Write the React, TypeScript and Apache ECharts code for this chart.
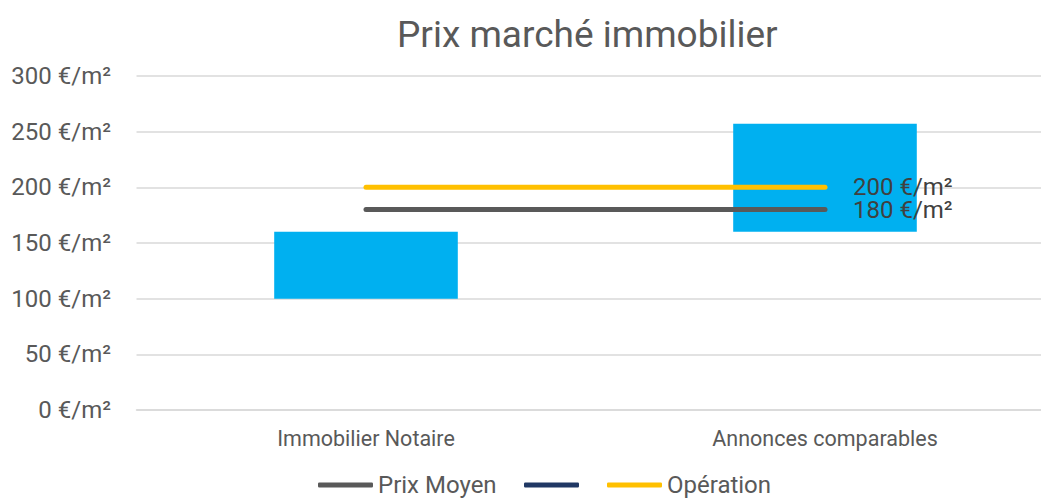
import React, { useEffect, useRef } from "react";
import * as echarts from "echarts";

const categories = ["Immobilier Notaire", "Annonces comparables"];
const barBase = [100, 160];
const barTop = [160, 257];
const prixMoyen = [180, 180];
const operation = [200, 200];
const yTicks = [0, 50, 100, 150, 200, 250, 300];
const NAVY_NAME = "\u00a0";

export default function App() {
  const ref = useRef<HTMLDivElement>(null);
  useEffect(() => {
    const chart = echarts.init(ref.current!, null, { renderer: "svg" });
    const font = "Roboto";
    const barHeight = barTop.map((v, i) => v - barBase[i]);
    const legendCommon = {
      top: 473,
      padding: 0,
      itemWidth: 55,
      itemHeight: 5,
      itemGap: 26,
      textStyle: { fontFamily: font, fontSize: 24, color: "#595959" },
    };
    const endLabel = {
      show: true,
      distance: 28,
      formatter: (p: any) => p.value + " €/m²",
      fontFamily: font,
      fontSize: 24,
      lineHeight: 21,
      color: "#404040",
    };
    chart.setOption({
      animation: false,
      textStyle: { fontFamily: font },
      title: {
        text: "Prix marché immobilier",
        left: 392,
        top: 11,
        textStyle: { fontFamily: font, fontSize: 37, fontWeight: "normal", color: "#595959" },
      },
      legend: [
        { ...legendCommon, left: 318, data: [{ name: "Prix Moyen", icon: "roundRect" }] },
        { ...legendCommon, left: 524, data: [{ name: NAVY_NAME, icon: "roundRect" }] },
        { ...legendCommon, left: 607, data: [{ name: "Opération", icon: "roundRect" }] },
      ],
      grid: { left: 136.5, right: 5.5, top: 76, bottom: 88, containLabel: false },
      xAxis: {
        type: "category",
        data: categories,
        axisTick: { show: false },
        axisLine: { lineStyle: { color: "#d9d9d9", width: 1.5 } },
        axisLabel: { fontFamily: font, fontSize: 21.5, color: "#595959", margin: 17 },
      },
      yAxis: {
        type: "value",
        min: yTicks[0],
        max: yTicks[yTicks.length - 1],
        interval: 50,
        axisLine: { show: false },
        axisTick: { show: false },
        splitLine: { lineStyle: { color: "#d9d9d9", width: 1.5 } },
        axisLabel: {
          fontFamily: font,
          fontSize: 24,
          color: "#595959",
          margin: 25.5,
          formatter: (v: number) => v + " €/m²",
        },
      },
      series: [
        {
          name: "base",
          type: "bar",
          stack: "s",
          data: barBase,
          barWidth: "40%",
          itemStyle: { color: "transparent" },
          silent: true,
        },
        {
          name: "range",
          type: "bar",
          stack: "s",
          data: barHeight,
          barWidth: "40%",
          itemStyle: { color: "#00B0F0" },
        },
        {
          name: "Prix Moyen",
          type: "line",
          data: prixMoyen,
          symbol: "none",
          z: 5,
          lineStyle: { color: "#595959", width: 5, cap: "round" },
          itemStyle: { color: "#595959" },
          endLabel,
        },
        {
          name: NAVY_NAME,
          type: "line",
          data: [],
          symbol: "none",
          lineStyle: { color: "#203864", width: 5 },
          itemStyle: { color: "#203864" },
        },
        {
          name: "Opération",
          type: "line",
          data: operation,
          symbol: "none",
          z: 5,
          lineStyle: { color: "#FFC000", width: 5, cap: "round" },
          itemStyle: { color: "#FFC000" },
          endLabel,
        },
      ],
    });
    return () => chart.dispose();
  }, []);
  return (
    <div
      ref={ref}
      style={{ position: "fixed", left: 0, top: 0, width: 1060, height: 498, background: "#fff" }}
    />
  );
}
